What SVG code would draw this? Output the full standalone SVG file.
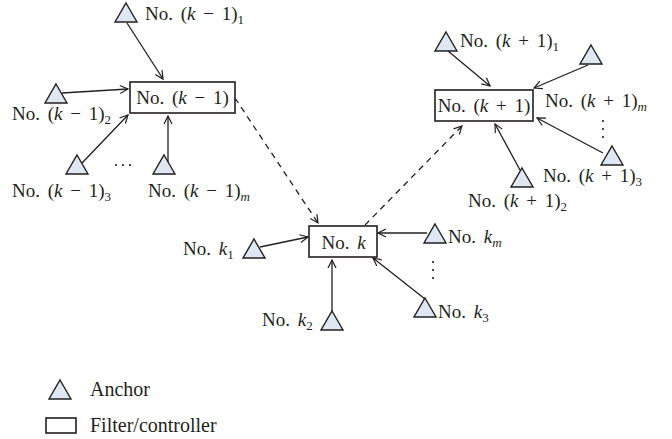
<svg xmlns="http://www.w3.org/2000/svg" width="672" height="439" viewBox="0 0 672 439">
<defs>
<marker id="ah" markerWidth="10" markerHeight="10" refX="9" refY="5" orient="auto" markerUnits="userSpaceOnUse">
<path d="M1,1 L9,5 L1,9" fill="none" stroke="#231f20" stroke-width="1.2"/>
</marker>
<polygon id="tri" points="0,0 11,19 -11,19"/>
</defs>
<style>
text{font-family:"Liberation Serif","Times New Roman",serif;font-size:19px;fill:#231f20;word-spacing:3px}
.i{font-style:italic}
.sub{font-size:13px}
.isub{font-size:13px;font-style:italic}
.leg{font-size:20px;word-spacing:0}
.box{fill:#fff;stroke:#231f20;stroke-width:1.6}
.anc use,.anc polygon{fill:#dfe7f2;stroke:#231f20;stroke-width:1.4}
.c line{stroke:#231f20;stroke-width:1.3;marker-end:url(#ah)}
.c .d{stroke-dasharray:6 5}
.dots circle{fill:#231f20}
</style>

<g id="connectors" class="c">
<line x1="127" y1="23" x2="163" y2="79"/>
<line x1="62" y1="93" x2="128" y2="89"/>
<line x1="82" y1="163" x2="128" y2="115"/>
<line x1="168" y1="163" x2="168" y2="116"/>
<line class="d" x1="235" y1="98" x2="318" y2="223"/>
<line class="d" x1="365" y1="225" x2="462" y2="126"/>
<line x1="448" y1="51" x2="490" y2="86"/>
<line x1="588" y1="65" x2="534" y2="88"/>
<line x1="603" y1="153" x2="537" y2="118"/>
<line x1="520" y1="170" x2="495" y2="124"/>
<line x1="260" y1="247" x2="308" y2="237"/>
<line x1="332" y1="311" x2="332" y2="260"/>
<line x1="427" y1="233" x2="378" y2="233"/>
<line x1="425" y1="299" x2="373" y2="258"/>
</g>

<g id="node-km1" class="node">
<rect class="box" x="130" y="82" width="105" height="31"/>
<text x="182.5" y="104" text-anchor="middle">No. (<tspan class="i">k</tspan> − 1)</text>
</g>
<g id="node-kp1" class="node">
<rect class="box" x="435" y="90" width="98" height="31"/>
<text x="484" y="112" text-anchor="middle">No. (<tspan class="i">k</tspan> + 1)</text>
</g>
<g id="node-k" class="node">
<rect class="box" x="309" y="226" width="68" height="31"/>
<text x="343.5" y="249" text-anchor="middle">No. <tspan class="i">k</tspan></text>
</g>

<g id="anchor-km1-1" class="anc"><use href="#tri" x="126" y="3"/><text x="145" y="20">No. (<tspan class="i">k</tspan> − 1)<tspan class="sub" dy="4">1</tspan></text></g>
<g id="anchor-km1-2" class="anc"><use href="#tri" x="56" y="84"/><text x="12" y="120">No. (<tspan class="i">k</tspan> − 1)<tspan class="sub" dy="4">2</tspan></text></g>
<g id="anchor-km1-3" class="anc"><use href="#tri" x="77" y="155"/><text x="12" y="197">No. (<tspan class="i">k</tspan> − 1)<tspan class="sub" dy="4">3</tspan></text></g>
<g id="anchor-km1-m" class="anc"><use href="#tri" x="164" y="155"/><text x="148" y="197">No. (<tspan class="i">k</tspan> − 1)<tspan class="isub" dy="4">m</tspan></text></g>

<g id="anchor-kp1-1" class="anc"><use href="#tri" x="446" y="32"/><text x="460" y="47">No. (<tspan class="i">k</tspan> + 1)<tspan class="sub" dy="4">1</tspan></text></g>
<g id="anchor-kp1-m" class="anc"><use href="#tri" x="591" y="45"/><text x="545" y="107">No. (<tspan class="i">k</tspan> + 1)<tspan class="isub" dy="4">m</tspan></text></g>
<g id="anchor-kp1-3" class="anc"><use href="#tri" x="612" y="146"/><text x="543" y="182">No. (<tspan class="i">k</tspan> + 1)<tspan class="sub" dy="4">3</tspan></text></g>
<g id="anchor-kp1-2" class="anc"><use href="#tri" x="522" y="168"/><text x="468" y="207">No. (<tspan class="i">k</tspan> + 1)<tspan class="sub" dy="4">2</tspan></text></g>

<g id="anchor-k-1" class="anc"><use href="#tri" x="254" y="239"/><text x="183" y="255">No. <tspan class="i">k</tspan><tspan class="sub" dy="4">1</tspan></text></g>
<g id="anchor-k-2" class="anc"><use href="#tri" x="332" y="311"/><text x="262" y="326">No. <tspan class="i">k</tspan><tspan class="sub" dy="4">2</tspan></text></g>
<g id="anchor-k-m" class="anc"><use href="#tri" x="435" y="224"/><text x="448" y="243">No. <tspan class="i">k</tspan><tspan class="isub" dy="4">m</tspan></text></g>
<g id="anchor-k-3" class="anc"><use href="#tri" x="425" y="298"/><text x="438" y="318">No. <tspan class="i">k</tspan><tspan class="sub" dy="4">3</tspan></text></g>

<g class="dots">
<circle cx="116" cy="165" r="1.1"/><circle cx="123" cy="165" r="1.1"/><circle cx="130" cy="165" r="1.1"/>
<circle cx="603" cy="121" r="1.1"/><circle cx="603" cy="129" r="1.1"/><circle cx="603" cy="137" r="1.1"/>
<circle cx="433" cy="262" r="1.1"/><circle cx="433" cy="270" r="1.1"/><circle cx="433" cy="278" r="1.1"/>
</g>

<g id="legend">
<g id="legend-anchor" class="anc"><use href="#tri" x="60" y="380"/><text class="leg" x="90" y="396">Anchor</text></g>
<g id="legend-filter"><rect class="box" x="46" y="418" width="30" height="15" stroke-width="1.4"/><text class="leg" x="90" y="432">Filter/controller</text></g>
</g>
</svg>
